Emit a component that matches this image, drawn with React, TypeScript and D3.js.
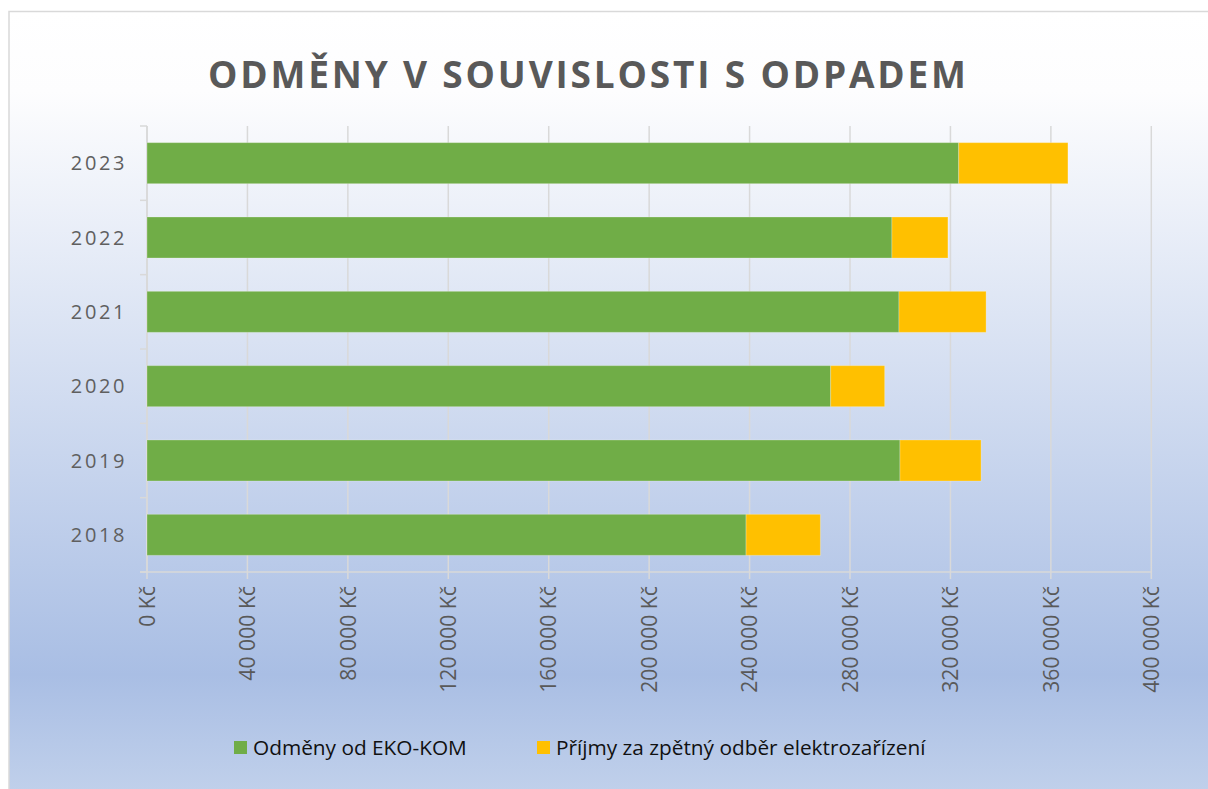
import React from 'react';
import * as d3 from 'd3';

const years = ['2023', '2022', '2021', '2020', '2019', '2018'];
const ekoKom = [323300, 296700, 299500, 272300, 299900, 238600];
const elektro = [43500, 22300, 34700, 21500, 32300, 29600];
const xTicks = [0, 40000, 80000, 120000, 160000, 200000, 240000, 280000, 320000, 360000, 400000];
const seriesNames = ['Odměny od EKO-KOM', 'Příjmy za zpětný odběr elektrozařízení'];
const seriesColors = ['#70ad47', '#ffc000'];

const W = 1208;
const H = 789;
const plot = { left: 147, right: 1151.3, top: 126, bottom: 572 };
const font = "'Open Sans', sans-serif";

const fmtKc = (v: number) => d3.format(',')(v).replace(/,/g, ' ') + ' Kč';

export default function App() {
  const x = d3.scaleLinear().domain([0, 400000]).range([plot.left, plot.right]);
  const y = d3
    .scaleBand()
    .domain(years)
    .range([plot.top, plot.bottom])
    .paddingInner(0.448)
    .paddingOuter(0.224);

  const step = y.step();
  const boundaries = d3.range(years.length + 1).map((i) => plot.top + i * step);

  const rows = years.map((yr, i) => ({ yr, a: ekoKom[i], b: elektro[i] }));

  return (
    <svg
      width={W}
      height={H}
      style={{ position: 'absolute', left: 0, top: 0 }}
      fontFamily={font}
    >
      <defs>
        <linearGradient id="bg" x1="0" y1="0" x2="0" y2="1">
          <stop offset="0" stopColor="#ffffff" />
          <stop offset="0.1" stopColor="#fdfdfe" />
          <stop offset="0.83" stopColor="#a9bee4" />
          <stop offset="1" stopColor="#c4d3ec" />
        </linearGradient>
      </defs>
      <rect x={0} y={0} width={W} height={H} fill="#ffffff" />
      <rect x={9} y={11.5} width={W + 10} height={H + 10} fill="url(#bg)" stroke="#d9d9d9" strokeWidth={1.5} />

      <text
        x={587}
        y={88}
        textAnchor="middle"
        fontSize={37}
        fontWeight={700}
        fill="#595959"
        textLength={758}
        lengthAdjust="spacing"
      >
        ODMĚNY V SOUVISLOSTI S ODPADEM
      </text>

      {/* vertical gridlines + tick marks below the axis */}
      {xTicks.map((t) => (
        <line
          key={'g' + t}
          x1={x(t)}
          x2={x(t)}
          y1={plot.top}
          y2={plot.bottom + 7}
          stroke="#d9d9d9"
          strokeWidth={1.5}
        />
      ))}
      <line x1={plot.left - 7} x2={plot.right} y1={plot.bottom} y2={plot.bottom} stroke="#d9d9d9" strokeWidth={1.5} />

      {/* category axis */}
      <line x1={plot.left} x2={plot.left} y1={plot.top} y2={plot.bottom} stroke="#d9d9d9" strokeWidth={1.5} />
      {boundaries.map((b, i) => (
        <line key={'b' + i} x1={plot.left - 7} x2={plot.left} y1={b} y2={b} stroke="#d9d9d9" strokeWidth={1.5} />
      ))}

      {rows.map((r) => (
        <g key={r.yr}>
          <rect
            x={x(0)}
            y={y(r.yr)}
            width={x(r.a) - x(0)}
            height={y.bandwidth()}
            fill={seriesColors[0]}
            stroke="#ffffff"
            strokeOpacity={0.25}
            strokeWidth={1}
          />
          <rect
            x={x(r.a)}
            y={y(r.yr)}
            width={x(r.a + r.b) - x(r.a)}
            height={y.bandwidth()}
            fill={seriesColors[1]}
            stroke="#ffffff"
            strokeOpacity={0.25}
            strokeWidth={1}
          />
          <text
            x={127}
            y={(y(r.yr) as number) + y.bandwidth() / 2}
            dy="0.36em"
            textAnchor="end"
            fontSize={20}
            letterSpacing={2.6}
            fill="#5f5f5f"
          >
            {r.yr}
          </text>
        </g>
      ))}

      {xTicks.map((t) => (
        <text
          key={'t' + t}
          transform={`translate(${x(t)},${plot.bottom + 14}) rotate(-90)`}
          dy="0.36em"
          textAnchor="end"
          fontSize={21.2}
          fill="#595959"
        >
          {fmtKc(t)}
        </text>
      ))}

      {/* legend */}
      {seriesNames.map((name, i) => {
        const lx = i === 0 ? 234 : 537;
        return (
          <g key={name}>
            <rect x={lx} y={741} width={13} height={13} fill={seriesColors[i]} />
            <text x={lx + 19} y={748} dy="0.36em" fontSize={20.8} fill="#111111">
              {name}
            </text>
          </g>
        );
      })}
    </svg>
  );
}
